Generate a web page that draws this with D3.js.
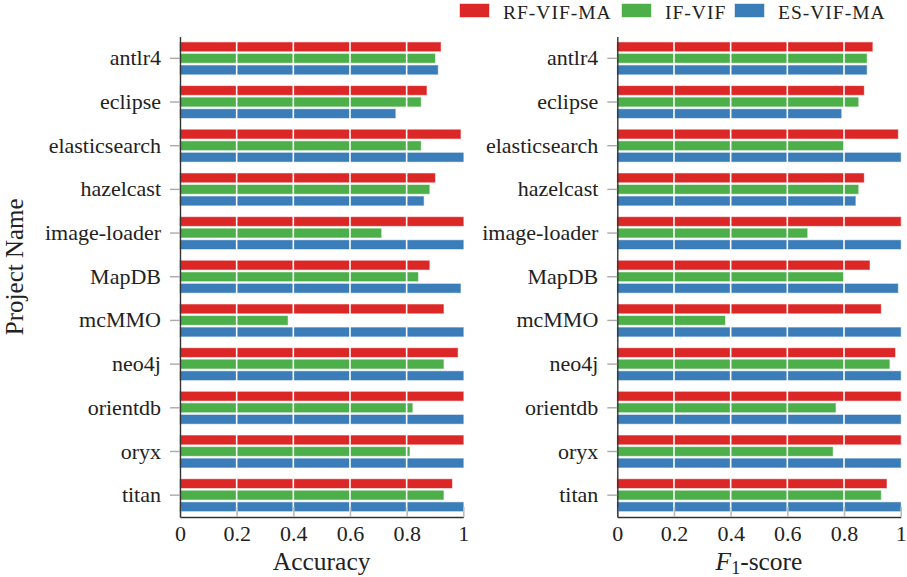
<!DOCTYPE html>
<html>
<head>
<meta charset="utf-8">
<script src="https://cdn.jsdelivr.net/npm/d3@7"></script>
<style>
  body { margin: 0; background: #fff; }
  text { font-family: "Liberation Serif", "Times New Roman", serif; fill: #222; }
</style>
</head>
<body>
<svg id="chart" width="907" height="577"></svg>
<script>
const projects = ["antlr4", "eclipse", "elasticsearch", "hazelcast", "image-loader", "MapDB",
                  "mcMMO", "neo4j", "orientdb", "oryx", "titan"];
const methods = ["RF-VIF-MA", "IF-VIF", "ES-VIF-MA"];
const colors = ["#db2726", "#4daf4a", "#3a7db8"];

// accuracy per method, same order as projects
const accRF = [0.92, 0.87, 0.99, 0.90, 1.00, 0.88, 0.93, 0.98, 1.00, 1.00, 0.96];
const accIF = [0.90, 0.85, 0.85, 0.88, 0.71, 0.84, 0.38, 0.93, 0.82, 0.81, 0.93];
const accES = [0.91, 0.76, 1.00, 0.86, 1.00, 0.99, 1.00, 1.00, 1.00, 1.00, 1.00];

// F1-score per method
const f1RF = [0.90, 0.87, 0.99, 0.87, 1.00, 0.89, 0.93, 0.98, 1.00, 1.00, 0.95];
const f1IF = [0.88, 0.85, 0.80, 0.85, 0.67, 0.80, 0.38, 0.96, 0.77, 0.76, 0.93];
const f1ES = [0.88, 0.79, 1.00, 0.84, 1.00, 0.99, 1.00, 1.00, 1.00, 1.00, 1.00];

const xTicks = [0, 0.2, 0.4, 0.6, 0.8, 1];

const svg = d3.select("#chart");
const plotTop = 36.5, plotBottom = 517;
const tickFont = 22;

const y = d3.scaleBand().domain(projects).range([plotTop, plotBottom])
  .paddingInner(0.27).paddingOuter(0.135);
const ySub = d3.scaleBand().domain(methods).range([0, y.bandwidth()]).paddingInner(0.24);

function panel(left, right, series) {
  const x = d3.scaleLinear().domain([0, 1]).range([left, right]);
  const g = svg.append("g");

  // bars
  series.forEach((vals, si) => {
    g.append("g").selectAll("rect")
      .data(projects.map((p, i) => ({ p, v: vals[i] })))
      .join("rect")
      .attr("x", x(0))
      .attr("y", d => y(d.p) + ySub(methods[si]))
      .attr("width", d => x(d.v) - x(0))
      .attr("height", ySub.bandwidth())
      .attr("fill", colors[si])
      .attr("stroke", colors[si])
      .attr("stroke-opacity", 0.45)
      .attr("stroke-width", 1);
  });

  // white grid over bars
  g.append("g").selectAll("line")
    .data(xTicks.filter(t => t > 0 && t < 1))
    .join("line")
    .attr("x1", d => x(d)).attr("x2", d => x(d))
    .attr("y1", plotTop).attr("y2", plotBottom)
    .attr("stroke", "#fff").attr("stroke-width", 1.6);

  // bottom axis with inward grey ticks
  const xAxis = g.append("g").attr("transform", `translate(0,${plotBottom})`)
    .call(d3.axisBottom(x).tickValues(xTicks)
      .tickFormat(d => d === 0 || d === 1 ? d3.format("d")(d) : d3.format(".1f")(d))
      .tickSizeInner(-10).tickSizeOuter(0).tickPadding(8));
  xAxis.select(".domain").attr("stroke", "#333").attr("stroke-width", 1.4);
  xAxis.selectAll(".tick line").attr("stroke", "#bbb").attr("stroke-width", 1.6);
  xAxis.selectAll(".tick text").attr("font-size", tickFont).attr("fill", "#222");

  // left axis
  const yAxis = g.append("g").attr("transform", `translate(${left},0)`)
    .call(d3.axisLeft(y).tickSizeInner(10).tickSizeOuter(0).tickPadding(9));
  yAxis.select(".domain").attr("stroke", "#333").attr("stroke-width", 1.4);
  yAxis.selectAll(".tick line").attr("stroke", "#aaa").attr("stroke-width", 1.4);
  yAxis.selectAll(".tick text").attr("font-size", tickFont).attr("fill", "#222");

  return g.append("text")
    .attr("x", (left + right) / 2).attr("y", 570)
    .attr("text-anchor", "middle").attr("font-size", 25.5);
}

panel(180, 463.3, [accRF, accIF, accES]).text("Accuracy");
const f1Title = panel(617.3, 900.7, [f1RF, f1IF, f1ES]);
f1Title.append("tspan").attr("font-style", "italic").text("F");
f1Title.append("tspan").attr("font-size", 18).attr("dy", 4).text("1");
f1Title.append("tspan").attr("dy", -4).text("-score");

svg.append("text")
  .attr("transform", `translate(23,${(plotTop + plotBottom) / 2 - 10}) rotate(-90)`)
  .attr("text-anchor", "middle").attr("font-size", 25)
  .text("Project Name");

// legend
const legendX = [460, 622, 735];
const lg = svg.append("g").selectAll("g").data(methods).join("g")
  .attr("transform", (d, i) => `translate(${legendX[i]},0)`);
lg.append("rect").attr("x", 0).attr("y", 4).attr("width", 29).attr("height", 13)
  .attr("fill", (d, i) => colors[i])
  .attr("stroke", (d, i) => colors[i]).attr("stroke-opacity", 0.45);
lg.append("text").attr("x", 43).attr("y", 18.5).attr("font-size", 19.5)
  .attr("letter-spacing", 1).text(d => d);
</script>
</body>
</html>
